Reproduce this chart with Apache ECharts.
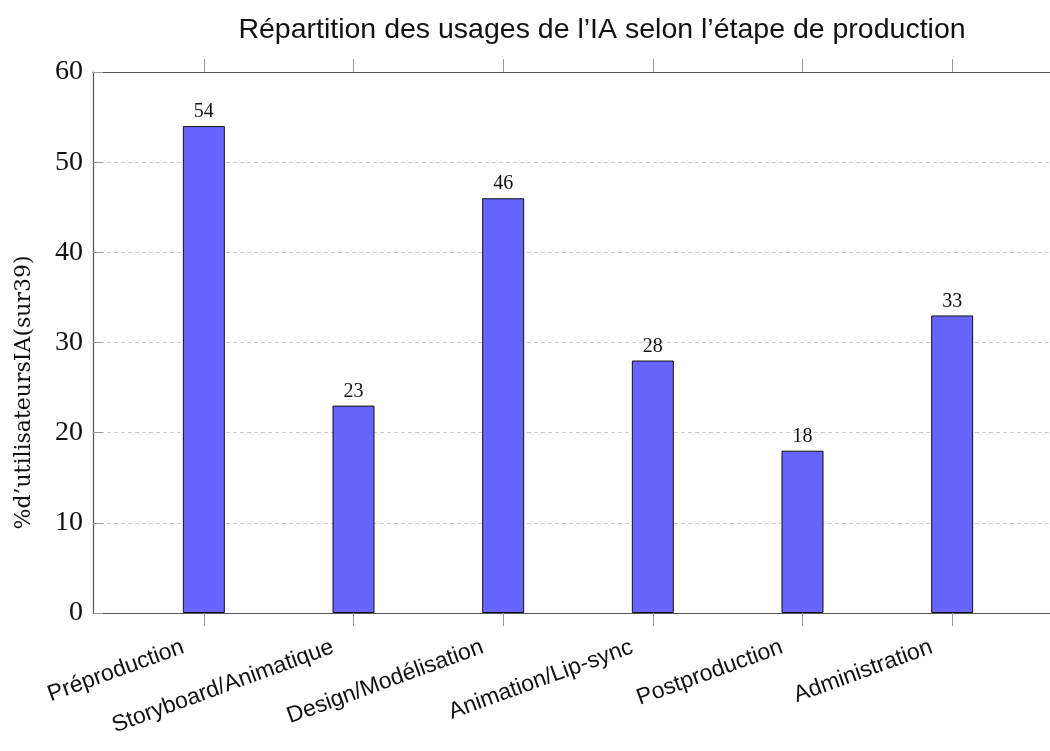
<!DOCTYPE html>
<html>
<head>
<meta charset="utf-8">
<script src="https://cdn.jsdelivr.net/npm/echarts@6/dist/echarts.min.js"></script>
<style>
  html, body { margin: 0; padding: 0; background: #fff; }
  #main { width: 1050px; height: 751px; }
</style>
</head>
<body>
<div id="main"></div>
<script>
// étapes de production
const categories = ['Préproduction', 'Storyboard/Animatique', 'Design/Modélisation', 'Animation/Lip-sync', 'Postproduction', 'Administration']
// % d'utilisateurs IA
const values = [54, 23, 46, 28, 18, 33]
const yTicks = { min: 0, max: 60, interval: 10 }

const serif = '"Liberation Serif", "DejaVu Serif", serif'
const sans = '"Liberation Sans", Arial, sans-serif'
const frameLine = { show: true, lineStyle: { color: '#555', width: 1.2 } }
const outerTick = { show: true, interval: 0, alignWithLabel: true, length: 13, lineStyle: { color: '#999' } }

const myChart = echarts.init(document.getElementById('main'))

const option = {
  animation: false,
  title: {
    text: 'Répartition des usages de l’IA selon l’étape de production',
    left: 597,
    top: 11,
    textAlign: 'center',
    textStyle: { fontFamily: sans, fontSize: 28.5, fontWeight: 'normal', color: '#111' }
  },
  grid: [
    // cadre
    { left: 93, right: 0, top: 72, bottom: 138, containLabel: false, outerBoundsMode: 'none' },
    // barres
    { left: 129, right: 23, top: 72, bottom: 138, containLabel: false, outerBoundsMode: 'none' }
  ],
  xAxis: [
    { type: 'value', gridIndex: 0, position: 'bottom', min: 0, max: 1, axisLine: frameLine,
      axisTick: { show: false }, axisLabel: { show: false }, splitLine: { show: false } },
    { type: 'value', gridIndex: 0, position: 'top', min: 0, max: 1, axisLine: frameLine,
      axisTick: { show: false }, axisLabel: { show: false }, splitLine: { show: false } },
    {
      type: 'category', gridIndex: 1, position: 'bottom', data: categories,
      axisLine: { show: false, onZero: false },
      axisTick: outerTick,
      axisLabel: { rotate: 20, margin: 26, padding: [0, 22, 0, 0], fontFamily: sans, fontSize: 23, color: '#111', interval: 0 }
    },
    {
      type: 'category', gridIndex: 1, position: 'top', data: categories,
      axisLine: { show: false, onZero: false },
      axisTick: outerTick,
      axisLabel: { show: false }
    }
  ],
  yAxis: [
    {
      type: 'value', gridIndex: 0, min: yTicks.min, max: yTicks.max, interval: yTicks.interval,
      name: '%d’utilisateursIA(sur39)',
      nameLocation: 'middle', nameGap: 58, nameRotate: 90,
      nameTextStyle: { fontFamily: '"DejaVu Serif", serif', fontSize: 22, color: '#111', padding: [0, 100, 0, 0] },
      axisLine: frameLine,
      axisTick: { show: true, inside: true, length: 10, lineStyle: { color: '#999' } },
      axisLabel: { margin: 10, fontFamily: serif, fontSize: 28, color: '#111' },
      splitLine: { lineStyle: { color: '#ccc', type: [4, 3] } }
    },
    { type: 'value', gridIndex: 1, min: yTicks.min, max: yTicks.max, show: false, splitLine: { show: false } }
  ],
  series: [
    {
      type: 'bar',
      xAxisIndex: 2,
      yAxisIndex: 1,
      data: values,
      barWidth: 42,
      itemStyle: { color: '#6666ff', borderColor: '#111', borderWidth: 1 },
      label: { show: true, position: 'top', distance: 4, fontFamily: serif, fontSize: 20, color: '#111' }
    }
  ]
}

myChart.setOption(option)
</script>
</body>
</html>
